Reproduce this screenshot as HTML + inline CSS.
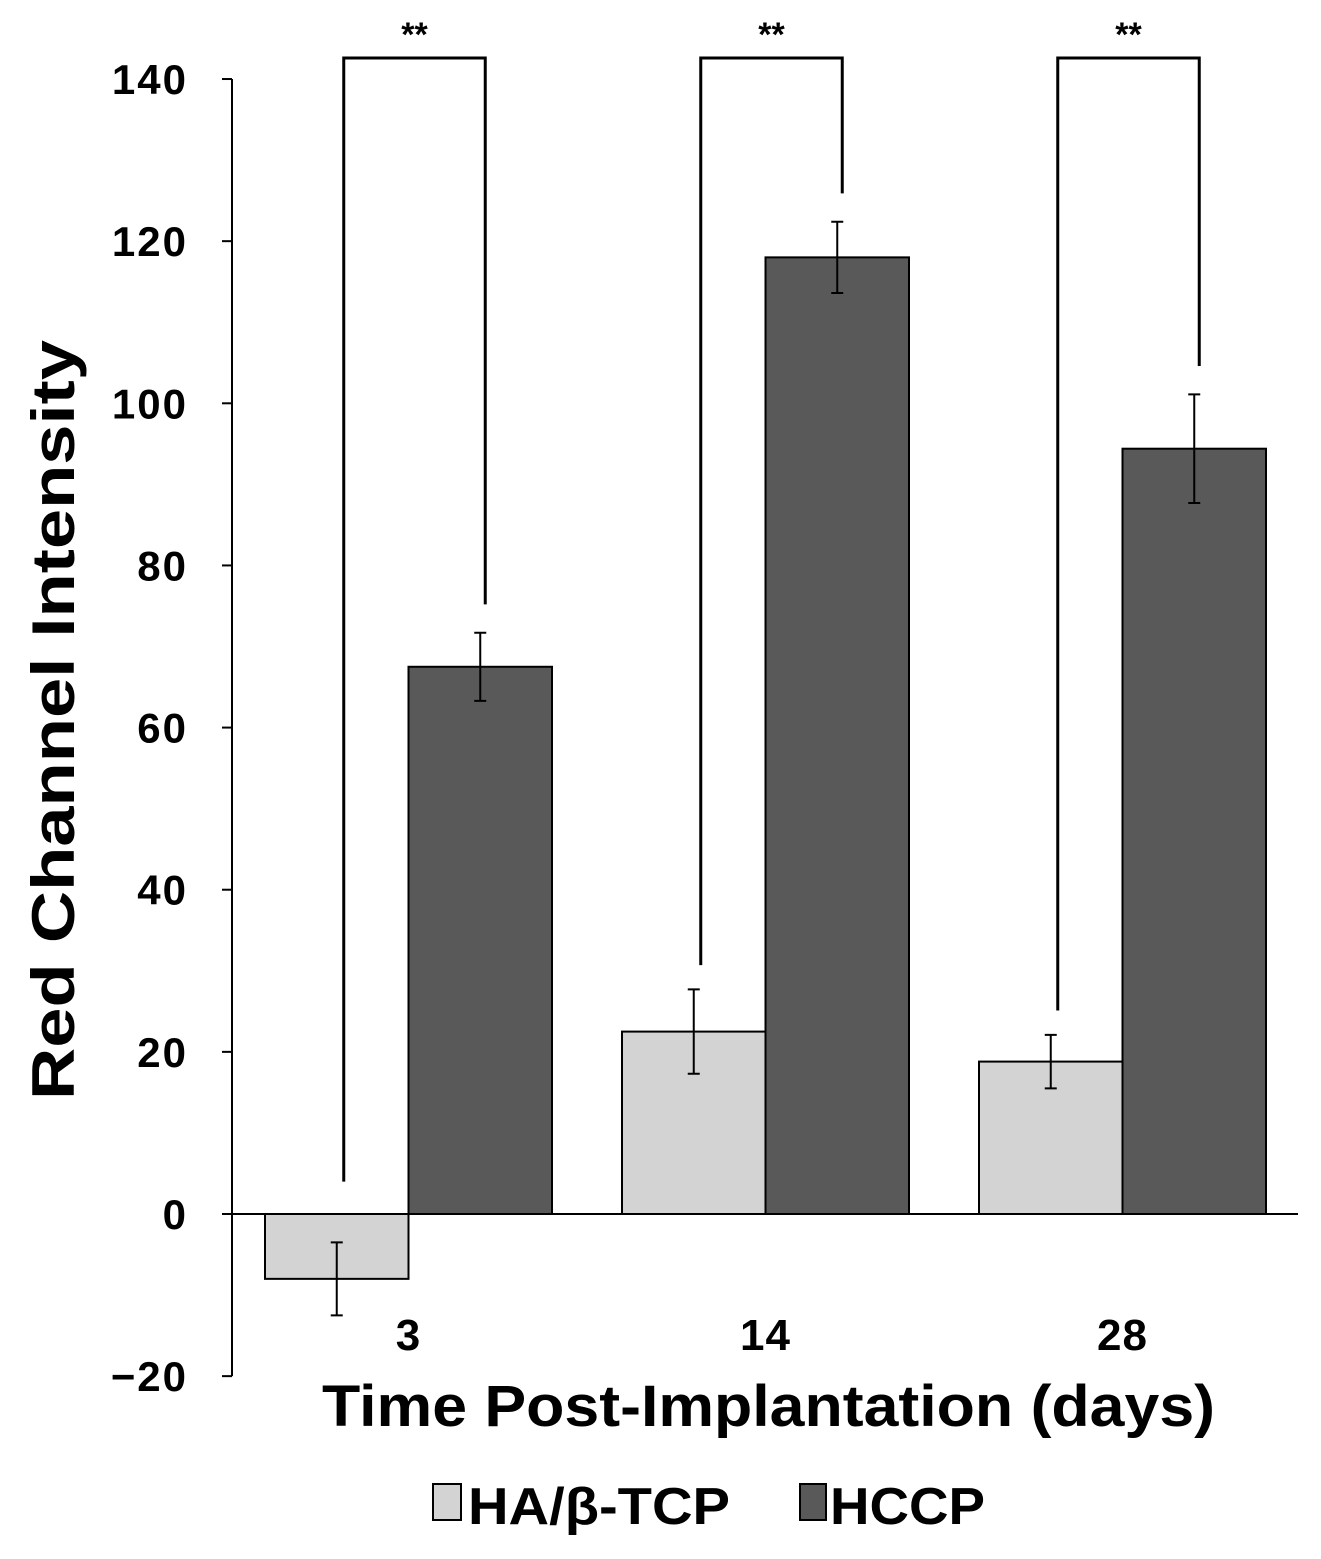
<!DOCTYPE html>
<html><head><meta charset="utf-8"><style>
body{margin:0;background:#fff;}
svg text{font-family:"Liberation Sans",Arial,sans-serif;font-weight:bold;fill:#000;}
</style></head><body>
<svg id="chart" width="1321" height="1554" xmlns="http://www.w3.org/2000/svg"></svg>
<script>
const categories = ["3","14","28"];
const haValues = [-8, 22.5, 18.8];
const haErrors = [4.5, 5.2, 3.3];
const hccpValues = [67.5, 118, 94.4];
const hccpErrors = [4.2, 4.4, 6.7];
const yTicks = [-20,0,20,40,60,80,100,120,140];
const sigLabels = ["**","**","**"];

const NS="http://www.w3.org/2000/svg";
const svg=document.getElementById('chart');
function y(v){return 1214 - v*8.107;}
const groupLeft=[265,622,979], barW=143.5;
function el(tag,attrs,txt){const e=document.createElementNS(NS,tag);for(const k in attrs)e.setAttribute(k,attrs[k]);if(txt!==undefined)e.textContent=txt;svg.appendChild(e);return e;}

let a=el('line',{x1:232,y1:y(140),x2:232,y2:y(-20),stroke:'#000','stroke-width':2});


yTicks.forEach(t=>{
  const l=el('line',{x1:222,y1:y(t),x2:232,y2:y(t),stroke:'#000','stroke-width':2});
  
  
  const tx=el('text',{x:188,y:y(t)+15,'text-anchor':'end','font-size':42,'letter-spacing':2},t<0?'\u2212'+(-t):String(t));
  
  
});
function bar(x,v,e,fill,name){
  const top=Math.min(y(v),y(0)),h=Math.abs(y(v)-y(0));
  const r=el('rect',{x:x,y:top,width:barW,height:h,fill:fill,stroke:'#000','stroke-width':2});
  
  
  const cx=x+barW/2;
  const g=el('path',{d:`M${cx},${y(v+e)}V${y(v-e)}M${cx-6},${y(v+e)}H${cx+6}M${cx-6},${y(v-e)}H${cx+6}`,stroke:'#000','stroke-width':2,fill:'none'});
  
  
}
categories.forEach((c,i)=>{
  bar(groupLeft[i],haValues[i],haErrors[i],'#d3d3d3','bar-ha-'+c);
  bar(groupLeft[i]+barW,hccpValues[i],hccpErrors[i],'#595959','bar-hccp-'+c);
  const lab=el('text',{x:groupLeft[i]+barW,y:1350,'text-anchor':'middle','font-size':44,'letter-spacing':1},c);
  
  
  const lx=groupLeft[i]+barW/2+7, rx=groupLeft[i]+barW*1.5+5;
  const lTop=Math.max(haValues[i],0)+ (i==0?4:haErrors[i]+3);
  const rTop=hccpValues[i]+hccpErrors[i]+3.5;
  const br=el('path',{d:`M${lx},${y(lTop)}V58H${rx}V${y(rTop)}`,stroke:'#000','stroke-width':3,fill:'none'});
  
  
  const s=el('text',{x:(lx+rx)/2,y:46,'text-anchor':'middle','font-size':34},sigLabels[i]);
  
  
});
let z=el('line',{x1:232,y1:y(0),x2:1298,y2:y(0),stroke:'#000','stroke-width':2});


let xt=el('text',{x:322,y:1426,'font-size':58,textLength:893,lengthAdjust:'spacingAndGlyphs'},'Time Post-Implantation (days)');


let yt=el('text',{x:-1100,y:74,'font-size':60,textLength:760,lengthAdjust:'spacingAndGlyphs',transform:'rotate(-90)'},'Red Channel Intensity');


let b1=el('rect',{x:433,y:1484,width:28,height:36,fill:'#d3d3d3',stroke:'#000','stroke-width':2});


let t1=el('text',{x:468,y:1524,'font-size':52,textLength:262,lengthAdjust:'spacingAndGlyphs'},'HA/β-TCP');


let b2=el('rect',{x:800,y:1484,width:26,height:36,fill:'#595959',stroke:'#000','stroke-width':2});


let t2=el('text',{x:830,y:1524,'font-size':52,textLength:155,lengthAdjust:'spacingAndGlyphs'},'HCCP');


</script>
</body></html>
